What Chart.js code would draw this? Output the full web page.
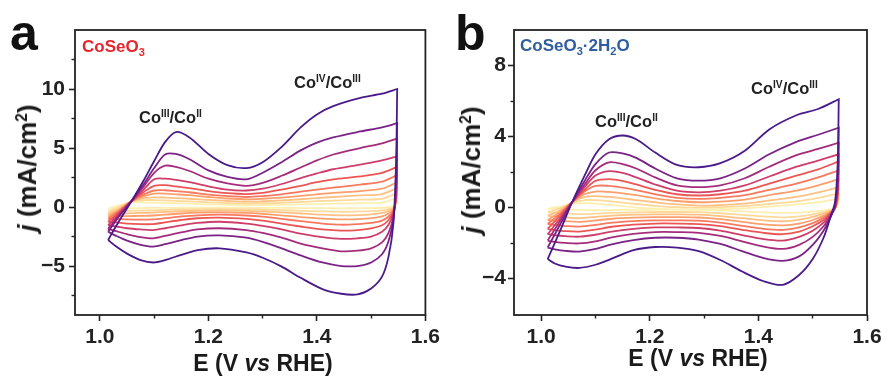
<!DOCTYPE html>
<html>
<head>
<meta charset="utf-8">
<title>CoSeO3 cyclic voltammetry</title>
<script src="https://cdn.jsdelivr.net/npm/chart.js@4.4.1/dist/chart.umd.min.js"></script>
<style>
  html, body { margin:0; padding:0; background:#fff; }
  body { width:888px; height:381px; position:relative; overflow:hidden;
         font-family:"Liberation Sans", Arial, Helvetica, sans-serif; color:#1a1a1a; }
  .panel { position:absolute; top:0; width:444px; height:381px; }
  .panel canvas { position:absolute; left:0; top:0; }
  .txt { position:absolute; white-space:nowrap; line-height:1; }
  .letter { font-size:50px; font-weight:bold; color:#111; }
  .sample { font-size:17px; font-weight:bold; }
  .sample sub { font-size:0.65em; position:relative; top:0.32em; vertical-align:0; }
  .peak { font-size:16.5px; font-weight:bold; color:#222; }
  .peak sup { font-size:0.62em; position:relative; top:-0.55em; vertical-align:0; }
  .xtitle { font-size:23px; font-weight:bold; transform:translateX(-50%); }
  .ytitle { font-size:26px; font-weight:bold; transform:translate(-50%,-50%) rotate(-90deg); }
  .ytitle sup { font-size:0.6em; position:relative; top:-0.6em; vertical-align:0; }
</style>
</head>
<body>
<div class="panel" style="left:0"><canvas id="cvA" width="444" height="381"></canvas></div>
<div class="panel" style="left:444px"><canvas id="cvB" width="444" height="381"></canvas></div>

<div class="txt letter" style="left:10px;top:8px">a</div>
<div class="txt sample" style="left:82px;top:38px;color:#e8262d">CoSeO<sub>3</sub></div>
<div class="txt peak" style="left:139px;top:109px">Co<sup>III</sup>/Co<sup>II</sup></div>
<div class="txt peak" style="left:294px;top:74px">Co<sup>IV</sup>/Co<sup>III</sup></div>
<div class="txt xtitle" style="left:263px;top:352px">E (V <i>vs</i> RHE)</div>
<div class="txt ytitle" style="left:27px;top:168px"><i>j</i> (mA/cm<sup>2</sup>)</div>

<div class="txt letter" style="left:455px;top:8px">b</div>
<div class="txt sample" style="left:520px;top:37px;color:#2f5d9e">CoSeO<sub>3</sub>·2H<sub>2</sub>O</div>
<div class="txt peak" style="left:595px;top:113px">Co<sup>III</sup>/Co<sup>II</sup></div>
<div class="txt peak" style="left:751px;top:80px">Co<sup>IV</sup>/Co<sup>III</sup></div>
<div class="txt xtitle" style="left:698px;top:347px">E (V <i>vs</i> RHE)</div>
<div class="txt ytitle" style="left:471px;top:170px"><i>j</i> (mA/cm<sup>2</sup>)</div>

<script>
// ---- Panel a: CoSeO3 ----
// Potentials (V vs RHE) of the forward (anodic) and reverse (cathodic) sweeps
const anodicEa = [1.015, 1.035, 1.057, 1.08, 1.10, 1.12, 1.14, 1.165, 1.20, 1.235, 1.27, 1.30, 1.335, 1.37, 1.40, 1.43, 1.48, 1.52, 1.548];
const cathodicEa = [1.548, 1.546, 1.541, 1.532, 1.52, 1.50, 1.475, 1.445, 1.41, 1.37, 1.335, 1.30, 1.27, 1.22, 1.18, 1.15, 1.12, 1.098, 1.075, 1.05, 1.03, 1.015];
// Current density (mA/cm2), slowest scan first
const anodicJa = [
  [-0.15, 0.15, 0.38, 0.4, 0.36, 0.34, 0.32, 0.28, 0.22, 0.19, 0.16, 0.17, 0.19, 0.22, 0.25, 0.28, 0.32, 0.38, 0.8],
  [-0.4, 0.0, 0.45, 0.58, 0.59, 0.56, 0.52, 0.48, 0.4, 0.34, 0.3, 0.32, 0.36, 0.43, 0.5, 0.55, 0.62, 0.7, 1.2],
  [-0.6, -0.15, 0.45, 0.75, 0.82, 0.8, 0.76, 0.7, 0.6, 0.52, 0.46, 0.49, 0.56, 0.66, 0.76, 0.85, 0.98, 1.1, 1.6],
  [-0.8, -0.25, 0.45, 0.9, 1.13, 1.14, 1.08, 1.0, 0.85, 0.72, 0.65, 0.7, 0.8, 0.95, 1.08, 1.2, 1.35, 1.55, 2.1],
  [-1.0, -0.35, 0.45, 1.05, 1.4, 1.42, 1.35, 1.25, 1.05, 0.92, 0.85, 0.92, 1.08, 1.3, 1.48, 1.65, 1.9, 2.15, 2.7],
  [-1.25, -0.45, 0.45, 1.25, 1.8, 1.85, 1.75, 1.6, 1.35, 1.17, 1.1, 1.2, 1.47, 1.8, 2.1, 2.35, 2.6, 2.9, 3.4],
  [-1.55, -0.55, 0.45, 1.45, 2.35, 2.4, 2.3, 2.1, 1.75, 1.47, 1.4, 1.55, 1.95, 2.45, 2.85, 3.2, 3.6, 3.95, 4.3],
  [-1.85, -0.7, 0.45, 1.7, 2.9, 3.5, 3.4, 3.05, 2.4, 2.0, 1.8, 2.05, 2.65, 3.35, 3.95, 4.45, 5.0, 5.4, 5.8],
  [-2.1, -0.8, 0.45, 1.9, 3.3, 4.45, 4.5, 4.05, 3.1, 2.55, 2.35, 2.9, 3.8, 4.8, 5.45, 5.9, 6.4, 6.75, 7.1],
  [-2.8, -1.2, 0.4, 2.2, 3.9, 5.5, 6.35, 5.9, 4.5, 3.55, 3.3, 3.8, 5.1, 6.75, 7.85, 8.55, 9.25, 9.6, 10.0]
];
const cathodicJa = [
  [0.8, 0.25, 0.05, -0.02, -0.06, -0.09, -0.1, -0.11, -0.1, -0.09, -0.08, -0.07, -0.06, -0.05, -0.05, -0.06, -0.07, -0.08, -0.09, -0.11, -0.13, -0.15],
  [1.2, 0.3, -0.05, -0.18, -0.28, -0.35, -0.38, -0.4, -0.37, -0.32, -0.27, -0.22, -0.2, -0.18, -0.19, -0.21, -0.25, -0.28, -0.3, -0.33, -0.37, -0.4],
  [1.6, 0.4, -0.1, -0.35, -0.5, -0.62, -0.68, -0.7, -0.65, -0.55, -0.45, -0.38, -0.33, -0.3, -0.32, -0.36, -0.42, -0.47, -0.5, -0.54, -0.57, -0.6],
  [2.1, 0.5, -0.2, -0.55, -0.8, -0.95, -1.02, -1.05, -0.98, -0.85, -0.7, -0.58, -0.5, -0.45, -0.48, -0.55, -0.65, -0.72, -0.75, -0.77, -0.78, -0.8],
  [2.7, 0.7, -0.3, -0.8, -1.15, -1.35, -1.45, -1.5, -1.4, -1.2, -1.0, -0.82, -0.72, -0.65, -0.7, -0.8, -0.95, -1.05, -1.07, -1.05, -1.0, -1.0],
  [3.4, 0.9, -0.4, -1.1, -1.55, -1.8, -1.95, -2.0, -1.9, -1.65, -1.4, -1.15, -1.0, -0.9, -0.95, -1.1, -1.3, -1.45, -1.45, -1.4, -1.3, -1.25],
  [4.3, 1.2, -0.5, -1.5, -2.1, -2.5, -2.65, -2.7, -2.55, -2.25, -1.9, -1.6, -1.4, -1.25, -1.35, -1.55, -1.8, -1.95, -1.9, -1.8, -1.65, -1.55],
  [5.8, 1.5, -0.8, -2.2, -3.0, -3.5, -3.7, -3.75, -3.5, -3.1, -2.6, -2.2, -1.95, -1.8, -1.9, -2.15, -2.45, -2.65, -2.55, -2.3, -2.05, -1.85],
  [7.1, 2.0, -1.0, -2.9, -4.0, -4.7, -5.0, -5.0, -4.7, -4.1, -3.5, -2.95, -2.6, -2.4, -2.5, -2.8, -3.15, -3.35, -3.2, -2.85, -2.45, -2.1],
  [10.0, 4.0, -1.4, -4.2, -5.9, -6.9, -7.4, -7.35, -6.95, -6.0, -5.05, -4.3, -3.85, -3.5, -3.65, -4.05, -4.5, -4.7, -4.5, -3.95, -3.35, -2.8]
];
const currentTicksA = [-5, 0, 5, 10];
const currentMinorA = [-7.5, -2.5, 2.5, 7.5, 12.5];

// ---- Panel b: CoSeO3·2H2O ----
const anodicEb = [1.012, 1.035, 1.057, 1.08, 1.10, 1.125, 1.15, 1.175, 1.21, 1.25, 1.29, 1.33, 1.375, 1.42, 1.47, 1.51, 1.548];
const cathodicEb = [1.548, 1.546, 1.541, 1.532, 1.52, 1.50, 1.475, 1.445, 1.41, 1.37, 1.33, 1.29, 1.25, 1.21, 1.17, 1.13, 1.10, 1.07, 1.045, 1.025, 1.012];
const anodicJb = [
  [-0.07, 0.05, 0.2, 0.25, 0.22, 0.15, 0.08, 0.0, -0.06, -0.1, -0.1, -0.08, -0.04, 0.05, 0.18, 0.3, 0.5],
  [-0.26, -0.05, 0.25, 0.42, 0.42, 0.36, 0.28, 0.2, 0.1, 0.02, 0.0, 0.02, 0.08, 0.2, 0.35, 0.55, 0.8],
  [-0.47, -0.15, 0.3, 0.6, 0.65, 0.6, 0.52, 0.42, 0.3, 0.18, 0.11, 0.14, 0.22, 0.4, 0.6, 0.85, 1.15],
  [-0.7, -0.25, 0.3, 0.75, 0.9, 0.88, 0.8, 0.7, 0.52, 0.37, 0.3, 0.34, 0.45, 0.7, 0.95, 1.25, 1.6],
  [-0.92, -0.35, 0.3, 0.9, 1.22, 1.22, 1.12, 0.98, 0.75, 0.55, 0.49, 0.55, 0.7, 1.0, 1.35, 1.7, 2.1],
  [-1.2, -0.45, 0.3, 1.0, 1.5, 1.6, 1.5, 1.3, 1.0, 0.75, 0.68, 0.75, 0.95, 1.35, 1.8, 2.15, 2.6],
  [-1.5, -0.6, 0.3, 1.15, 1.8, 2.05, 1.95, 1.7, 1.3, 0.95, 0.86, 0.95, 1.25, 1.75, 2.3, 2.65, 3.0],
  [-1.85, -0.75, 0.3, 1.3, 2.1, 2.55, 2.45, 2.2, 1.7, 1.25, 1.15, 1.25, 1.65, 2.3, 2.95, 3.3, 3.65],
  [-2.25, -0.95, 0.3, 1.5, 2.45, 3.1, 3.05, 2.8, 2.2, 1.65, 1.52, 1.65, 2.2, 3.0, 3.7, 4.1, 4.5],
  [-2.9, -1.3, 0.3, 1.8, 3.0, 3.85, 4.06, 3.85, 3.1, 2.4, 2.27, 2.5, 3.2, 4.4, 5.2, 5.55, 6.1]
];
const cathodicJb = [
  [0.5, 0.15, -0.03, -0.1, -0.16, -0.23, -0.28, -0.3, -0.27, -0.21, -0.16, -0.13, -0.12, -0.12, -0.13, -0.14, -0.15, -0.13, -0.1, -0.08, -0.07],
  [0.8, 0.25, -0.05, -0.15, -0.26, -0.38, -0.49, -0.55, -0.5, -0.41, -0.32, -0.26, -0.25, -0.25, -0.27, -0.3, -0.34, -0.37, -0.33, -0.29, -0.26],
  [1.15, 0.35, -0.05, -0.2, -0.35, -0.52, -0.68, -0.77, -0.72, -0.6, -0.48, -0.4, -0.38, -0.38, -0.4, -0.45, -0.52, -0.6, -0.56, -0.5, -0.47],
  [1.6, 0.5, -0.05, -0.25, -0.47, -0.7, -0.9, -1.0, -0.95, -0.8, -0.65, -0.56, -0.54, -0.54, -0.57, -0.63, -0.72, -0.8, -0.77, -0.74, -0.7],
  [2.1, 0.6, -0.05, -0.3, -0.58, -0.88, -1.12, -1.26, -1.2, -1.03, -0.85, -0.74, -0.72, -0.72, -0.76, -0.85, -0.98, -1.07, -1.04, -0.98, -0.92],
  [2.6, 0.8, -0.05, -0.35, -0.7, -1.05, -1.35, -1.5, -1.43, -1.25, -1.05, -0.93, -0.9, -0.9, -0.96, -1.08, -1.24, -1.35, -1.33, -1.27, -1.2],
  [3.0, 1.0, 0.0, -0.4, -0.85, -1.3, -1.65, -1.86, -1.78, -1.55, -1.3, -1.15, -1.12, -1.12, -1.2, -1.35, -1.53, -1.64, -1.61, -1.55, -1.48],
  [3.65, 1.2, 0.0, -0.5, -1.05, -1.65, -2.1, -2.33, -2.2, -1.9, -1.6, -1.42, -1.38, -1.38, -1.48, -1.68, -1.9, -2.02, -1.99, -1.93, -1.86],
  [4.5, 1.5, 0.1, -0.6, -1.3, -2.1, -2.75, -3.0, -2.85, -2.45, -2.05, -1.8, -1.7, -1.7, -1.83, -2.07, -2.33, -2.48, -2.44, -2.35, -2.25],
  [6.1, 2.5, 0.3, -0.6, -1.7, -2.9, -3.8, -4.35, -4.15, -3.6, -2.95, -2.45, -2.25, -2.22, -2.4, -2.88, -3.22, -3.4, -3.33, -3.15, -2.9]
];
const currentTicksB = [-4, 0, 4, 8];
const currentMinorB = [-2, 2, 6];

// Shared potential axis ticks
const potentialTicks = [1.0, 1.2, 1.4, 1.6];
const potentialMinor = [1.1, 1.3, 1.5];

// Scan colours, slowest (pale yellow) to fastest (deep violet)
const curveColors = ['#fcefb0', '#fdd99a', '#fec083', '#fd9f6c', '#f8795f', '#ec5555', '#cf3e6a', '#a52c7c', '#7a2286', '#4a1a8a'];

const INK = '#222222';
const tickFont = { family: '"Liberation Sans", Arial, sans-serif', size: 21, weight: 'bold' };
const minusSign = v => (v < 0 ? '\u2212' + Math.abs(v) : String(v));

const framePlugin = {
  id: 'frame',
  afterDatasetsDraw(chart) {
    const { ctx, chartArea: a } = chart;
    ctx.save();
    ctx.strokeStyle = INK;
    ctx.lineWidth = 1.8;
    ctx.strokeRect(a.left, a.top, a.right - a.left, a.bottom - a.top);
    ctx.restore();
  }
};

function makePanel(canvasId, p) {
  const datasets = [];
  // fastest scan first so it sits on top
  for (let k = p.anodicJ.length - 1; k >= 0; k--) {
    const forward = p.anodicE.map((e, i) => ({ x: e, y: p.anodicJ[k][i] }));
    const reverse = p.cathodicE.map((e, i) => ({ x: e, y: p.cathodicJ[k][i] }));
    datasets.push({
      data: forward.concat(reverse),
      xAxisID: 'x', yAxisID: 'y',
      borderColor: curveColors[k],
      borderWidth: 1.8,
      pointRadius: 0,
      showLine: true,
      fill: false,
      tension: 0.3
    });
  }
  const plotBottom = 315;
  return new Chart(document.getElementById(canvasId), {
    type: 'scatter',
    data: { datasets },
    plugins: [framePlugin],
    options: {
      responsive: false,
      animation: false,
      devicePixelRatio: 1,
      layout: { padding: { left: 0, right: p.padRight, top: 30, bottom: 0 } },
      plugins: { legend: { display: false }, tooltip: { enabled: false } },
      scales: {
        x: {
          type: 'linear', position: 'bottom', weight: 1,
          min: p.xMin, max: 1.6,
          afterBuildTicks: s => { s.ticks = potentialTicks.map(v => ({ value: v })); },
          afterFit: s => { s.height = 381 - plotBottom; },
          ticks: { font: tickFont, color: INK, padding: 4, maxRotation: 0, callback: v => Number(v).toFixed(1) },
          grid: { drawOnChartArea: false, tickLength: 6, tickWidth: 1.6, tickColor: INK },
          border: { display: false }
        },
        xMinor: {
          axis: 'x', type: 'linear', position: 'bottom', weight: 0,
          min: p.xMin, max: 1.6,
          afterBuildTicks: s => { s.ticks = potentialMinor.map(v => ({ value: v })); },
          afterFit: s => { s.height = 0; },
          ticks: { display: false },
          grid: { drawOnChartArea: false, tickLength: 3.5, tickWidth: 1.4, tickColor: INK },
          border: { display: false }
        },
        y: {
          type: 'linear', position: 'left', weight: 1,
          min: p.yMin, max: p.yMax,
          afterBuildTicks: s => { s.ticks = p.majorTicks.map(v => ({ value: v })); },
          afterFit: s => { s.width = p.axisLeft; },
          ticks: { font: tickFont, color: INK, padding: p.yPad, callback: v => minusSign(v) },
          grid: { drawOnChartArea: false, tickLength: 6, tickWidth: 1.6, tickColor: INK },
          border: { display: false }
        },
        yMinor: {
          axis: 'y', type: 'linear', position: 'left', weight: 0,
          min: p.yMin, max: p.yMax,
          afterBuildTicks: s => { s.ticks = p.minorTicks.map(v => ({ value: v })); },
          afterFit: s => { s.width = 0; },
          ticks: { display: false },
          grid: { drawOnChartArea: false, tickLength: 3.5, tickWidth: 1.4, tickColor: INK },
          border: { display: false }
        }
      }
    }
  });
}

makePanel('cvA', {
  anodicE: anodicEa, cathodicE: cathodicEa, anodicJ: anodicJa, cathodicJ: cathodicJa,
  xMin: 0.954, yMin: -9.15, yMax: 15, majorTicks: currentTicksA, minorTicks: currentMinorA,
  axisLeft: 75, padRight: 17, yPad: 4
});
makePanel('cvB', {
  anodicE: anodicEb, cathodicE: cathodicEb, anodicJ: anodicJb, cathodicJ: cathodicJb,
  xMin: 0.95, yMin: -6.05, yMax: 10, majorTicks: currentTicksB, minorTicks: currentMinorB,
  axisLeft: 70, padRight: 21, yPad: 2
});
</script>
</body>
</html>
